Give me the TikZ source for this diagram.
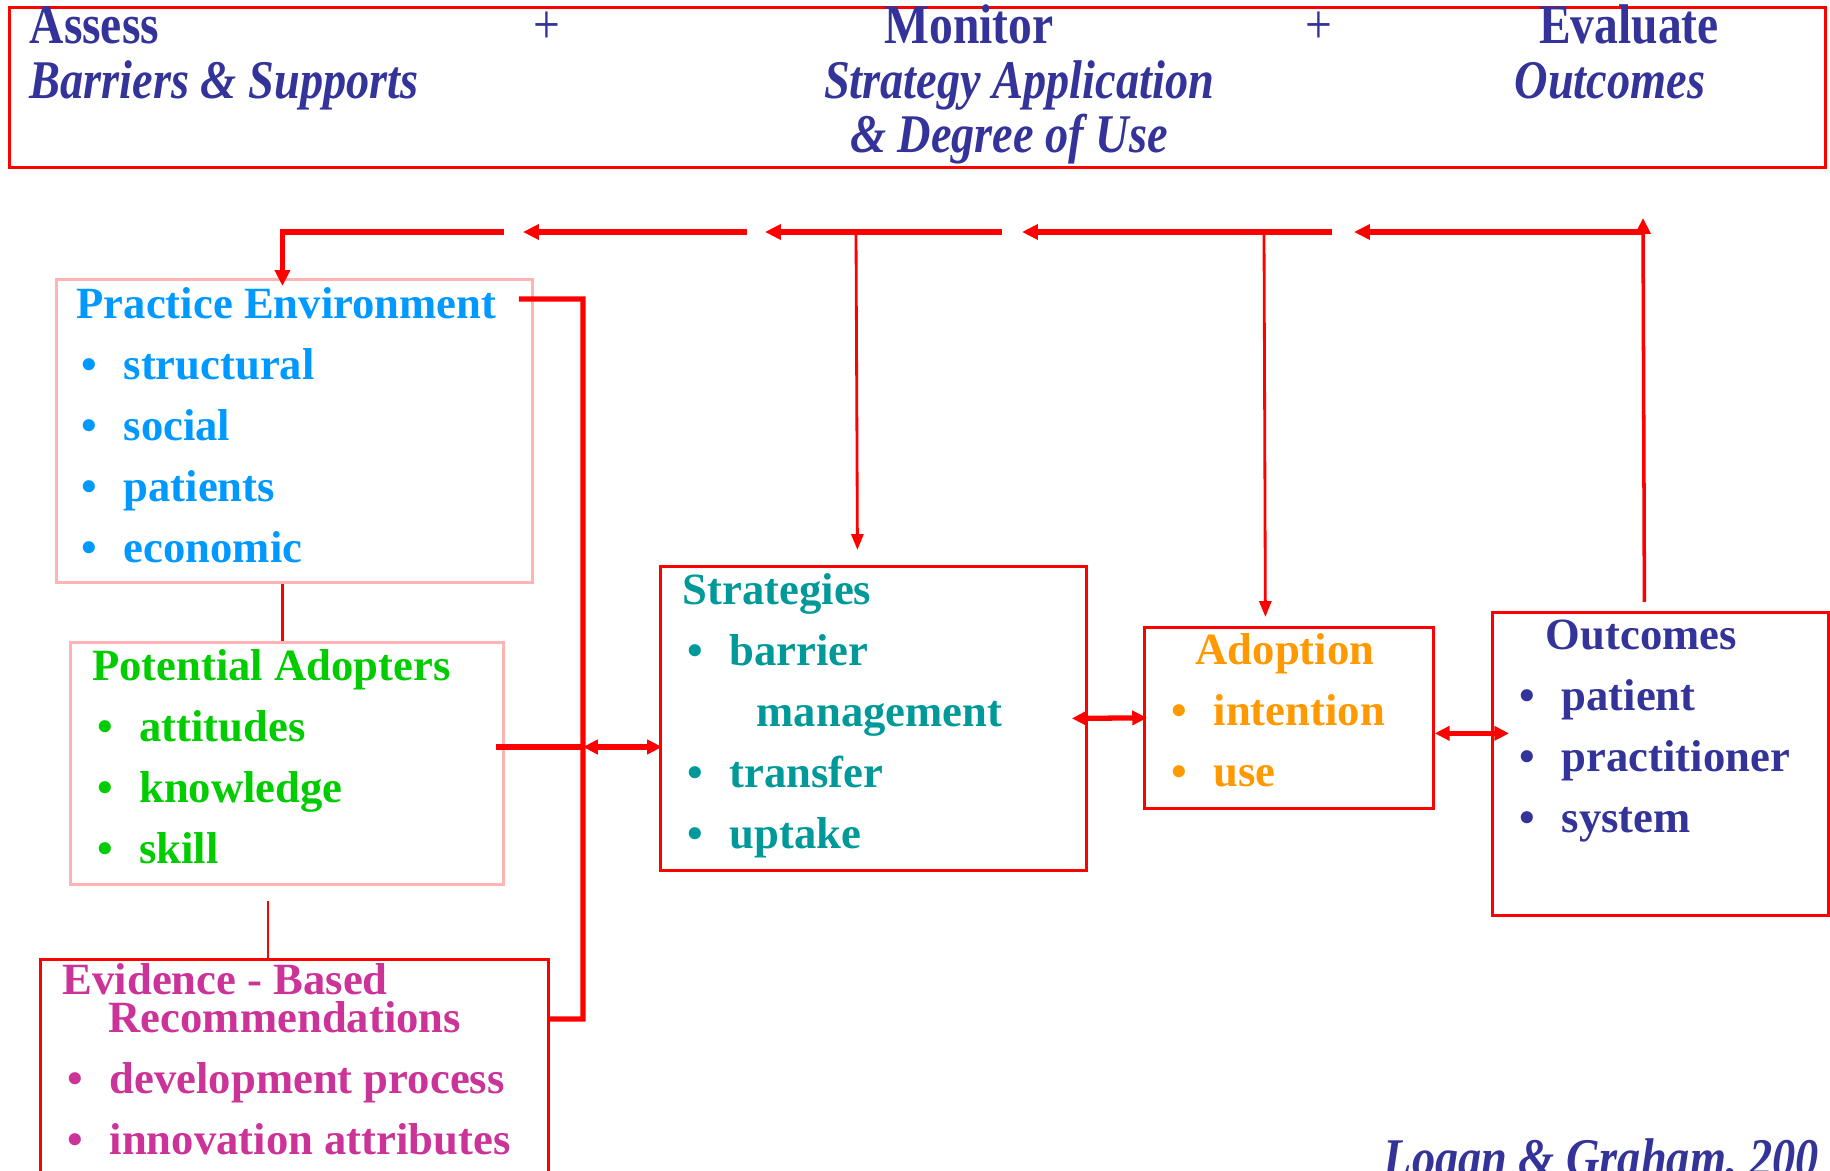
\documentclass[tikz,border=0pt]{standalone}
\usepackage{fontspec}
\setmainfont{Liberation Serif}
\newfontfamily\headfont[FakeStretch=0.85]{Liberation Serif}
\usepackage{xcolor}
\definecolor{headBlue}{HTML}{333399}
\definecolor{envBlue}{HTML}{0099FF}
\definecolor{adoptGreen}{HTML}{00CC00}
\definecolor{evidPink}{HTML}{CC3399}
\definecolor{stratTeal}{HTML}{009999}
\definecolor{adoptOrange}{HTML}{FF9900}
\definecolor{lineRed}{HTML}{FF0000}
\definecolor{softPink}{HTML}{FFB3B3}
\usepackage{tikz}
\usetikzlibrary{positioning,calc,arrows.meta}
\newcommand{\bitem}[1]{\makebox[0.47cm][l]{\hspace*{0.05cm}\textbullet}#1}
\tikzset{%
  frameBox/.style={%
    rectangle,
    draw=lineRed,
    line width=0.75pt,
    inner sep=0pt,
    anchor=north west
  },
  softBox/.style={%
    frameBox,
    draw=softPink
  },
  listText/.style={%
    anchor=base west,
    align=left,
    inner sep=0pt,
    font=\fontsize{12.7}{17.4}\selectfont\bfseries
  },
  headText/.style={%
    anchor=base,
    inner sep=0pt,
    text=headBlue,
    font=\headfont\bfseries\fontsize{15.9}{19}\selectfont
  },
  headSub/.style={%
    headText,
    font=\headfont\bfseries\itshape\fontsize{15.5}{19}\selectfont
  },
  busLine/.style={%
    draw=lineRed,
    line width=1.5pt
  },
  thinLine/.style={%
    draw=lineRed,
    line width=0.8pt
  },
  feedArrow/.style={%
    busLine,
    -{Triangle[length=4.5pt,width=4.2pt]}
  },
  dropArrow/.style={%
    thinLine,
    -{Triangle[length=4.5pt,width=3.4pt]}
  },
  pairArrow/.style={%
    busLine,
    {Triangle[length=4.2pt,width=4pt]}-{Triangle[length=4.2pt,width=4pt]}
  }
}

\begin{document}
\begin{tikzpicture}[x=0.01cm, y=-0.01cm]
  \useasboundingbox (0,0) rectangle (1830,1171);

  % header strip
  \node[frameBox, minimum width=18.15cm, minimum height=1.6cm] (head) at (8,6) {};
  \node[headText, anchor=base west] (assess) at (29,44) {Assess};
  \node[headText] (plusA) at (547,44) {\mdseries +};
  \node[headText] (monitor) at (969,44) {Monitor};
  \node[headText] (plusB) at (1319,44) {\mdseries +};
  \node[headText] (evaluate) at (1629,44) {Evaluate};
  \node[headSub, anchor=base west] (barriers) at (29,99) {Barriers \& Supports};
  \node[headSub] (stratApp) at (1019,99) {Strategy Application};
  \node[headSub] (degree) at (1009,153) {\& Degree of Use};
  \node[headSub] (outcHead) at (1610,99) {Outcomes};

  % boxes (lists are placed by the baseline of their last line)
  \node[softBox, minimum width=4.76cm, minimum height=3.03cm] (env) at (55,278) {};
  \node[listText, text=envBlue] (envList) at (76,563)
    {Practice Environment\\ \bitem{structural}\\ \bitem{social}\\ \bitem{patients}\\ \bitem{economic}};

  \node[softBox, minimum width=4.33cm, minimum height=2.42cm] (adopters) at (69,641) {};
  \node[listText, text=adoptGreen] (adoptersList) at (91.5,864)
    {Potential Adopters\\ \bitem{attitudes}\\ \bitem{knowledge}\\ \bitem{skill}};

  \node[frameBox, minimum width=5.08cm, minimum height=2.5cm] (evid) at (39,958) {};
  \node[listText, text=evidPink] (evidList) at (62,1155)
    {Evidence - Based\\[-6.6pt] \hspace*{0.46cm}Recommendations\\ \bitem{development process}\\ \bitem{innovation attributes}};

  \node[frameBox, minimum width=4.26cm, minimum height=3.04cm] (strat) at (659,565) {};
  \node[listText, text=stratTeal] (stratList) at (682,849)
    {Strategies\\ \bitem{barrier}\\ \hspace*{0.74cm}management\\ \bitem{transfer}\\ \bitem{uptake}};

  \node[frameBox, minimum width=2.89cm, minimum height=1.81cm] (adopt) at (1143,626) {};
  \node[listText, text=adoptOrange] (adoptList) at (1166,787)
    {\hspace*{0.29cm}Adoption\\ \bitem{intention}\\ \bitem{use}};

  \node[frameBox, minimum width=3.36cm, minimum height=3.03cm] (outc) at (1491,611) {};
  \node[listText, text=headBlue] (outcList) at (1514,833)
    {\hspace*{0.31cm}Outcomes\\ \bitem{patient}\\ \bitem{practitioner}\\ \bitem{system}};

  \node[headSub, anchor=base west] (credit) at (1383,1177) {Logan \& Graham, 200};

  % feedback line along the top
  \coordinate (fbA) at (504,232);
  \coordinate (fbB) at (747,232);
  \coordinate (fbBtip) at (523,232);
  \coordinate (fbC) at (1002,232);
  \coordinate (fbCtip) at (765,232);
  \coordinate (fbD) at (1332,232);
  \coordinate (fbDtip) at (1022,232);
  \coordinate (fbE) at (1643,232);
  \coordinate (fbEtip) at (1354,232);
  \coordinate (upTip) at (1643,218);
  \coordinate (dropS) at (856,232);
  \coordinate (dropA) at (1264,232);

  \draw[feedArrow] (fbA) -| ([shift={(-0.12cm,-0.08cm)}]env.north);
  \draw[feedArrow] (fbB) -- (fbBtip);
  \draw[feedArrow] (fbC) -- (fbCtip);
  \draw[feedArrow] (fbD) -- (fbDtip);
  \draw[feedArrow] (fbE) -- (fbEtip);
  \draw[feedArrow, line width=1pt] ([shift={(-0.16cm,0.09cm)}]outc.north) -- (upTip);
  \draw[dropArrow] (dropS) -- ([shift={(-0.16cm,0.15cm)}]strat.north);
  \draw[dropArrow] (dropA) -- ([shift={(-0.235cm,0.09cm)}]adopt.north);

  % left side bus
  \coordinate (busTop) at (583,299);
  \coordinate (busMid) at (583,747);
  \coordinate (busBot) at (583,1019);
  \draw[busLine] ([shift={(-0.15cm,-0.21cm)}]env.north east) -- (busTop) -- (busBot) -- (busBot -| evid.east);
  \draw[busLine] ([xshift=-0.09cm]adopters.east |- busMid) -- (busMid);
  \draw[pairArrow] (busMid) -- ([xshift=0.03cm]busMid -| strat.west);
  \draw[thinLine] ([xshift=-0.12cm]env.south) -- ([xshift=-0.12cm]env.south |- adopters.north);
  \draw[thinLine] ([shift={(-0.19cm,-0.15cm)}]adopters.south) -- ([xshift=-0.19cm]adopters.south |- evid.north);

  % links between the stages
  \draw[pairArrow] ([xshift=-0.16cm]strat.east) -- ([xshift=0.04cm]adopt.west);
  \draw[pairArrow] ([yshift=-0.155cm]adopt.east) -- ([shift={(0.18cm,-0.155cm)}]adopt.east -| outc.west);
\end{tikzpicture}
\end{document}
